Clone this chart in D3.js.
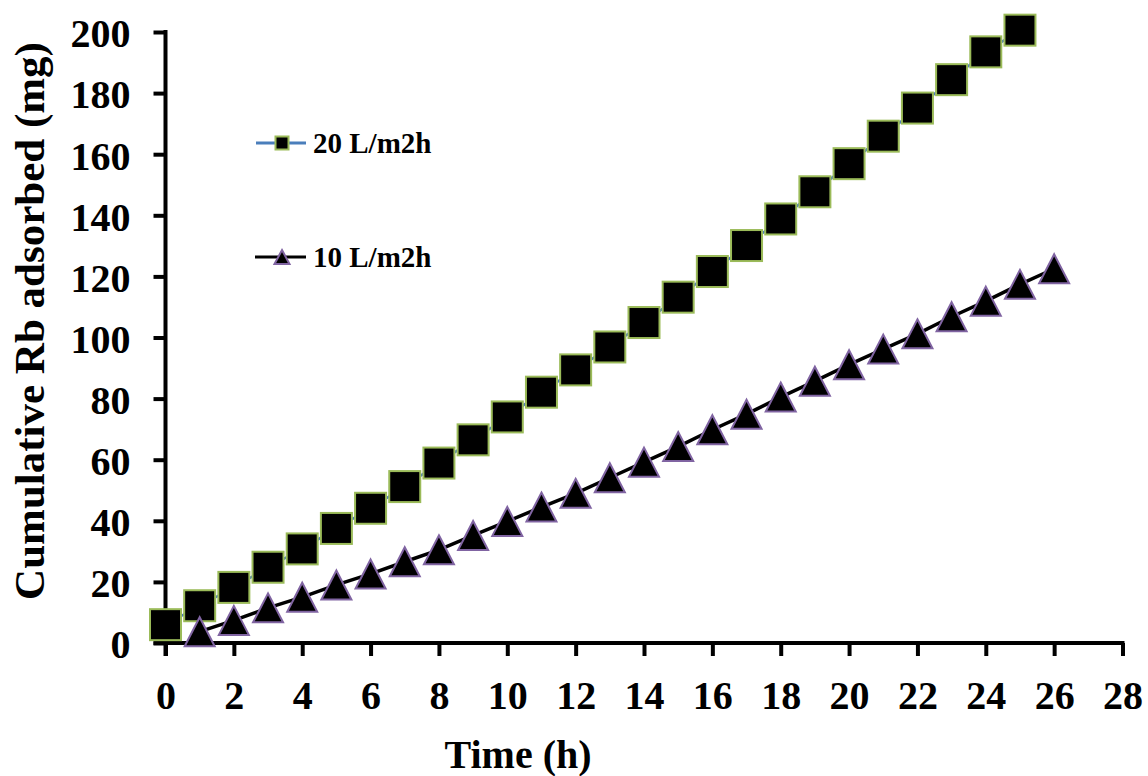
<!DOCTYPE html>
<html>
<head>
<meta charset="utf-8">
<script src="https://cdn.jsdelivr.net/npm/d3@7/dist/d3.min.js"></script>
<style>
  html, body { margin: 0; padding: 0; background: #ffffff; }
  svg { display: block; }
  text { font-family: "Liberation Serif", "Times New Roman", serif; font-weight: bold; fill: #000; }
</style>
</head>
<body>
<svg id="chart" width="1148" height="776"></svg>
<script>
// ---- data ----
const hours20 = [0,1,2,3,4,5,6,7,8,9,10,11,12,13,14,15,16,17,18,19,20,21,22,23,24,25];
const values20 = [6.0,12.2,18.2,24.8,30.8,37.5,44.1,51.2,58.9,66.5,74.0,82.1,89.4,96.9,104.9,113.2,121.6,130.1,138.8,147.7,156.9,165.9,175.1,184.4,193.5,200.6];
const hours10 = [1,2,3,4,5,6,7,8,9,10,11,12,13,14,15,16,17,18,19,20,21,22,23,24,25,26];
const values10 = [3.7,7.4,11.5,15.0,19.0,22.6,26.6,30.5,35.2,39.8,44.5,49.0,54.1,59.2,64.3,69.8,74.9,80.5,85.7,91.1,96.2,101.2,106.8,111.9,117.4,122.5];
const xTicks = [0,2,4,6,8,10,12,14,16,18,20,22,24,26,28];
const yTicks = [0,20,40,60,80,100,120,140,160,180,200];
const seriesNames = ["20 L/m2h", "10 L/m2h"];
const xTitle = "Time (h)";
const yTitle = "Cumulative Rb adsorbed (mg)";

// ---- layout ----
const svg = d3.select("#chart");
const x = d3.scaleLinear().domain([0, 28]).range([165.5, 1122.5]);
const y = d3.scaleLinear().domain([0, 200]).range([643, 32]);

const data20 = hours20.map((h, i) => ({x: h, y: values20[i]}));
const data10 = hours10.map((h, i) => ({x: h, y: values10[i]}));

// axes
const yAxis = d3.axisLeft(y).tickValues(yTicks).tickSize(12).tickPadding(23).tickSizeOuter(0);
const xAxis = d3.axisBottom(x).tickValues(xTicks).tickSize(13).tickPadding(25).tickSizeOuter(0);

const gy = svg.append("g").attr("transform", `translate(${x(0)},0)`).call(yAxis);
gy.select(".domain").remove();
gy.selectAll(".tick line").attr("stroke", "#000").attr("stroke-width", 4);
gy.selectAll(".tick text").style("font-size", "40px").attr("dy", "0.37em")
  .style("font-family", '"Liberation Serif","Times New Roman",serif').style("font-weight", "bold");

const gx = svg.append("g").attr("transform", `translate(0,${y(0)})`).call(xAxis);
gx.select(".domain").remove();
gx.selectAll(".tick line").attr("stroke", "#000").attr("stroke-width", 4);
gx.selectAll(".tick text").style("font-size", "40px").attr("dy", "0.71em")
  .style("font-family", '"Liberation Serif","Times New Roman",serif').style("font-weight", "bold");

// axis lines
svg.append("line").attr("x1", x(0) - 12).attr("x2", x(28) + 2).attr("y1", y(0)).attr("y2", y(0))
  .attr("stroke", "#000").attr("stroke-width", 4);
svg.append("line").attr("x1", x(0)).attr("x2", x(0)).attr("y1", y(200) - 2).attr("y2", y(0) + 13)
  .attr("stroke", "#000").attr("stroke-width", 4);

// series lines
const line = d3.line().x(d => x(d.x)).y(d => y(d.y));
svg.append("path").datum(data20).attr("d", line).attr("fill", "none")
  .attr("stroke", "#4A7EBB").attr("stroke-width", 2.5);

// squares
const sq = 31;
svg.selectAll(".sq").data(data20).enter().append("rect")
  .attr("x", d => x(d.x) - sq / 2).attr("y", d => y(d.y) - sq / 2)
  .attr("width", sq).attr("height", sq)
  .attr("fill", "#000").attr("stroke", "#9BBB59").attr("stroke-width", 2);

svg.append("path").datum(data10).attr("d", line).attr("fill", "none")
  .attr("stroke", "#000").attr("stroke-width", 3.5);

// triangles
function tri(cx, cy, w, h) {
  return `M${cx},${cy - h / 2}L${cx + w / 2},${cy + h / 2}L${cx - w / 2},${cy + h / 2}Z`;
}
svg.selectAll(".tri").data(data10).enter().append("path")
  .attr("d", d => tri(x(d.x), y(d.y), 30, 29))
  .attr("fill", "#000").attr("stroke", "#8064A2").attr("stroke-width", 2).attr("stroke-linejoin", "miter");

// legend
const legY = [143, 257];
svg.append("line").attr("x1", 256).attr("x2", 306).attr("y1", legY[0]).attr("y2", legY[0])
  .attr("stroke", "#4A7EBB").attr("stroke-width", 3);
svg.append("rect").attr("x", 282 - 6.5).attr("y", legY[0] - 6.5).attr("width", 13).attr("height", 13)
  .attr("fill", "#000").attr("stroke", "#9BBB59").attr("stroke-width", 2);
svg.append("text").attr("x", 313).attr("y", legY[0] + 9.5).style("font-size", "29px").text(seriesNames[0]);

svg.append("line").attr("x1", 255).attr("x2", 306).attr("y1", legY[1]).attr("y2", legY[1])
  .attr("stroke", "#000").attr("stroke-width", 3);
svg.append("path").attr("d", tri(282, legY[1], 15, 14))
  .attr("fill", "#000").attr("stroke", "#8064A2").attr("stroke-width", 2);
svg.append("text").attr("x", 313).attr("y", legY[1] + 9.5).style("font-size", "29px").text(seriesNames[1]);

// titles
svg.append("text").attr("x", 518).attr("y", 768).attr("text-anchor", "middle")
  .style("font-size", "40px").text(xTitle);
svg.append("text").attr("transform", "translate(44,321) rotate(-90)").attr("text-anchor", "middle")
  .style("font-size", "43px").text(yTitle);
</script>
</body>
</html>
